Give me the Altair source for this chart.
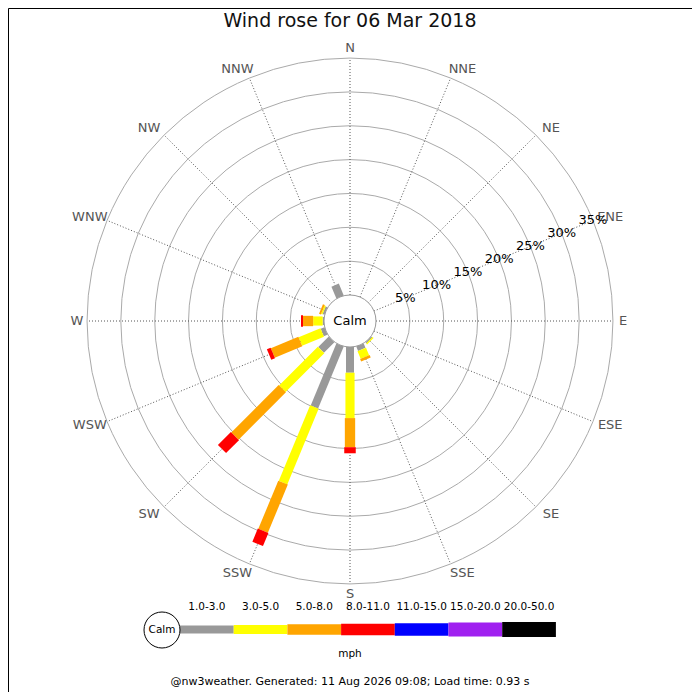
import math
import altair as alt
import pandas as pd

# ---------------- data ----------------
directions = ["N", "NNE", "NE", "ENE", "E", "ESE", "SE", "SSE",
              "S", "SSW", "SW", "WSW", "W", "WNW", "NW", "NNW"]
speed_bins = ["1.0-3.0", "3.0-5.0", "5.0-8.0", "8.0-11.0",
              "11.0-15.0", "15.0-20.0", "20.0-50.0"]
#             N  NNE NE ENE E  ESE SE   SSE  S    SSW   SW   WSW  W    WNW  NW NNW
pct_1_3   = [0, 0,  0, 0,  0, 0,  0.2, 0.7, 3.8, 9.9,  2.2, 0.6, 0.2, 0.3, 0, 1.9]
pct_3_5   = [0, 0,  0, 0,  0, 0,  0.2, 1.2, 6.7, 12.1, 8.1, 3.5, 1.4, 0.2, 0, 0]
pct_5_8   = [0, 0,  0, 0,  0, 0,  0,   0.4, 4.3, 7.7,  9.9, 4.4, 1.5, 0.3, 0, 0]
pct_8_11  = [0, 0,  0, 0,  0, 0,  0,   0,   0.9, 2.1,  2.7, 0.6, 0.3, 0,   0, 0]
pct_11_15 = [0, 0,  0, 0,  0, 0,  0,   0,   0,   0,    0,   0,   0,   0,   0, 0]
pct_15_20 = [0, 0,  0, 0,  0, 0,  0,   0,   0,   0,    0,   0,   0,   0,   0, 0]
pct_20_50 = [0, 0,  0, 0,  0, 0,  0,   0,   0,   0,    0,   0,   0,   0,   0, 0]
ring_pcts = [5, 10, 15, 20, 25, 30, 35]
title_text = "Wind rose for 06 Mar 2018"
calm_text = "Calm"
unit_text = "mph"
footer_text = "@nw3weather. Generated: 11 Aug 2026 09:08; Load time: 0.93 s"

series = [pct_1_3, pct_3_5, pct_5_8, pct_8_11, pct_11_15, pct_15_20, pct_20_50]

# ---------------- style / layout ----------------
FONT = "DejaVu Sans"
speed_colors = ["#999999", "#ffff00", "#ffa500", "#ff0000", "#0000ff", "#a020f0", "#000000"]
bar_widths = [8, 15, 20, 24, 25, 27, 28]

W = H = 684
PX = 6.77                 # pixels per percent
CX, CY = 342, 313         # rose centre inside the view
U0 = 26 / PX              # calm circle radius in percent units
LABEL_U = 273 / PX
LABEL_SHIFT = 8 / PX
PCT_LABEL_BEARING = 67.5

def py(page_y):
    return (CY + 8 - page_y) / PX

def px(page_x):
    return (page_x - CX - 8) / PX

xs = alt.Scale(domain=[-CX / PX, (W - CX) / PX], nice=False, zero=False)
ys = alt.Scale(domain=[-(H - CY) / PX, CY / PX], nice=False, zero=False)
rs = alt.Scale(type="linear", domain=[0, CX / PX], range=[0, CX], nice=False, zero=True)
cs = alt.Scale(domain=speed_bins, range=speed_colors)
ws = alt.Scale(domain=speed_bins, range=bar_widths)

X = lambda f: alt.X(f, scale=xs, axis=None)
Y = lambda f: alt.Y(f, scale=ys, axis=None)
R = lambda f: alt.Radius(f, scale=rs, stack=None)

# ---------------- tables ----------------
rows = []
for d_i, d in enumerate(directions):
    cum = 0.0
    for b_i, b in enumerate(speed_bins):
        v = series[b_i][d_i]
        if v > 0:
            rows.append(dict(dir=d, idx=d_i, bin=b, start=cum, end=cum + v))
        cum += v
bars_df = pd.DataFrame(rows)

dirs_df = pd.DataFrame({"dir": directions, "idx": list(range(len(directions)))})
rings_df = pd.DataFrame({"p": ring_pcts})
rings_df["r"] = U0 + rings_df["p"]
rings_df["cx"] = 0.0
rings_df["cy"] = 0.0

ang = math.radians(PCT_LABEL_BEARING)
pct_df = pd.DataFrame({"p": ring_pcts})
pct_df["x"] = (U0 + pct_df["p"]) * math.sin(ang)
pct_df["y"] = (U0 + pct_df["p"]) * math.cos(ang)
pct_df["t"] = [f"{p}%" for p in ring_pcts]

LEG_X0 = px(180)
LEG_STEP = 53.7 / PX
LEG_Y = py(629.5)
leg_df = pd.DataFrame({"bin": speed_bins, "i": list(range(len(speed_bins)))})
leg_df["x"] = LEG_X0 + leg_df["i"] * LEG_STEP
leg_df["x2"] = leg_df["x"] + LEG_STEP
leg_df["xm"] = leg_df["x"] + LEG_STEP / 2
leg_df["y"] = LEG_Y
leg_df["yl"] = py(607)

# ---------------- layers ----------------
rings = alt.Chart(rings_df).mark_arc(
    theta=0, theta2=2 * math.pi, fillOpacity=0, stroke="#aaaaaa", strokeWidth=1
).encode(x=X("cx:Q"), y=Y("cy:Q"), radius=R("r:Q"))

spokes = alt.Chart(dirs_df).transform_calculate(
    a="datum.idx * PI / 8",
    x=f"{U0} * sin(datum.a)", y=f"{U0} * cos(datum.a)",
    x2=f"{U0 + 35} * sin(datum.a)", y2=f"{U0 + 35} * cos(datum.a)",
).mark_rule(color="#555555", strokeWidth=1, strokeDash=[1, 2]).encode(
    x=X("x:Q"), y=Y("y:Q"), x2="x2:Q", y2="y2:Q")

bars = alt.Chart(bars_df).transform_calculate(
    a="datum.idx * PI / 8",
    x=f"({U0} + datum.start) * sin(datum.a)", y=f"({U0} + datum.start) * cos(datum.a)",
    x2=f"({U0} + datum.end) * sin(datum.a)", y2=f"({U0} + datum.end) * cos(datum.a)",
).mark_rule(strokeCap="butt").encode(
    x=X("x:Q"), y=Y("y:Q"), x2="x2:Q", y2="y2:Q",
    color=alt.Color("bin:N", scale=cs, legend=None),
    strokeWidth=alt.StrokeWidth("bin:O", scale=ws, legend=None),
)

calm_df = pd.DataFrame({"cx": [0.0], "cy": [0.0], "r": [U0], "t": [calm_text]})
calm = alt.Chart(calm_df).mark_arc(
    theta=0, theta2=2 * math.pi, fill="white", stroke="#999999", strokeWidth=1
).encode(x=X("cx:Q"), y=Y("cy:Q"), radius=R("r:Q"))
calm_t = alt.Chart(calm_df).mark_text(font=FONT, fontSize=13, color="#000000").encode(
    x=X("cx:Q"), y=Y("cy:Q"), text="t:N")

dir_labels = alt.Chart(dirs_df).transform_calculate(
    a="datum.idx * PI / 8",
    sh=f"datum.idx % 4 == 0 ? 0 : (datum.idx < 8 ? {LABEL_SHIFT} : -{LABEL_SHIFT})",
    x=f"{LABEL_U} * sin(datum.a) + datum.sh", y=f"{LABEL_U} * cos(datum.a)",
).mark_text(font=FONT, fontSize=13, color="#555555").encode(
    x=X("x:Q"), y=Y("y:Q"), text="dir:N")

pct_labels = alt.Chart(pct_df).mark_text(font=FONT, fontSize=13, color="#000000").encode(
    x=X("x:Q"), y=Y("y:Q"), text="t:N")

leg_bars = alt.Chart(leg_df).mark_rule(strokeCap="butt").encode(
    x=X("x:Q"), x2="x2:Q", y=Y("y:Q"),
    color=alt.Color("bin:N", scale=cs, legend=None),
    strokeWidth=alt.StrokeWidth("bin:O", scale=ws, legend=None),
)
leg_labels = alt.Chart(leg_df).mark_text(font=FONT, fontSize=10.5, color="#000000").encode(
    x=X("xm:Q"), y=Y("yl:Q"), text="bin:N")

leg_calm_df = pd.DataFrame({"cx": [px(162)], "cy": [py(630)], "r": [18 / PX], "t": [calm_text]})
leg_calm = alt.Chart(leg_calm_df).mark_arc(
    theta=0, theta2=2 * math.pi, fill="white", stroke="#000000", strokeWidth=1
).encode(x=X("cx:Q"), y=Y("cy:Q"), radius=R("r:Q"))
leg_calm_t = alt.Chart(leg_calm_df).mark_text(font=FONT, fontSize=10.5, color="#000000").encode(
    x=X("cx:Q"), y=Y("cy:Q"), text="t:N")

def single_text(t, y, size, color="#000000"):
    df = pd.DataFrame({"x": [0.0], "y": [y], "t": [t]})
    return alt.Chart(df).mark_text(font=FONT, fontSize=size, color=color).encode(
        x=X("x:Q"), y=Y("y:Q"), text="t:N")

title = single_text(title_text, py(21), 19, "#111111")
unit = single_text(unit_text, py(654), 10.5)
footer = single_text(footer_text, py(682), 11)

chart = alt.layer(
    rings, spokes, bars, calm, calm_t, dir_labels, pct_labels,
    leg_bars, leg_calm, leg_calm_t, leg_labels, title, unit, footer,
).properties(
    width=W, height=H, padding=0, autosize="none", background="white"
).configure_view(stroke="#000000", strokeWidth=1)

chart.save("out.html", embed_options={"renderer": "svg", "actions": False})
